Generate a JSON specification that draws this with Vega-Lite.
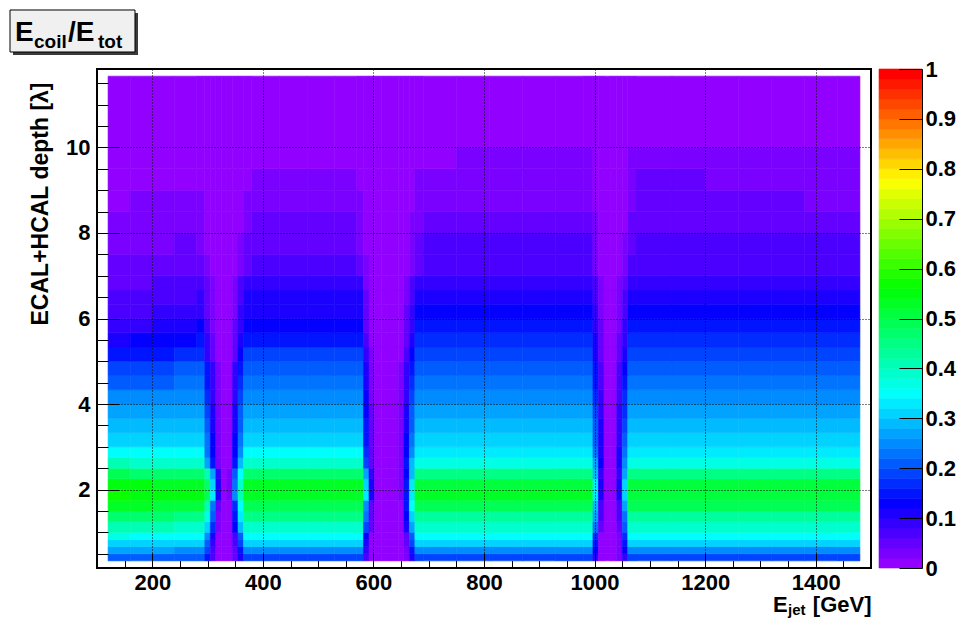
{
  "$schema": "https://vega.github.io/schema/vega-lite/v6.json",
  "background": "white",
  "autosize": {"type": "pad"},
  "padding": {"left": 8, "top": 8, "right": 2, "bottom": 0},
  "spacing": 5,
  "config": {
    "font": "Liberation Sans",
    "view": {"stroke": null},
    "axis": {"labelFont": "Liberation Sans", "labelFontWeight": "bold", "labelColor": "black", "titleFont": "Liberation Sans", "titleFontWeight": "bold", "titleColor": "black", "tickColor": "black", "domainColor": "black", "labelOverlap": false, "labelFlush": false, "labelBound": false}
  },
  "resolve": {"scale": {"x": "independent", "y": "independent", "color": "independent", "stroke": "independent"}},
  "datasets": {
    "cols": [
      {"i":1,"x0":120,"x1":160},{"i":2,"x0":160,"x1":200},{"i":3,"x0":200,"x1":240},{"i":4,"x0":240,"x1":280},{"i":5,"x0":280,"x1":295},
      {"i":6,"x0":295,"x1":305},{"i":7,"x0":305,"x1":315},{"i":8,"x0":315,"x1":325},{"i":9,"x0":325,"x1":335},{"i":10,"x0":335,"x1":345},{"i":11,"x0":345,"x1":355},{"i":12,"x0":355,"x1":365},
      {"i":13,"x0":365,"x1":380},{"i":14,"x0":380,"x1":430},{"i":15,"x0":430,"x1":480},{"i":16,"x0":480,"x1":530},{"i":17,"x0":530,"x1":570},{"i":18,"x0":570,"x1":582},
      {"i":19,"x0":582,"x1":592},{"i":20,"x0":592,"x1":602},{"i":21,"x0":602,"x1":615},{"i":22,"x0":615,"x1":630},{"i":23,"x0":630,"x1":645},{"i":24,"x0":645,"x1":655},{"i":25,"x0":655,"x1":665},{"i":26,"x0":665,"x1":675},
      {"i":27,"x0":675,"x1":690},{"i":28,"x0":690,"x1":750},{"i":29,"x0":750,"x1":810},{"i":30,"x0":810,"x1":870},{"i":31,"x0":870,"x1":930},{"i":32,"x0":930,"x1":980},{"i":33,"x0":980,"x1":997},
      {"i":34,"x0":997,"x1":1007},{"i":35,"x0":1007,"x1":1017},{"i":36,"x0":1017,"x1":1028},{"i":37,"x0":1028,"x1":1040},{"i":38,"x0":1040,"x1":1050},{"i":39,"x0":1050,"x1":1060},
      {"i":40,"x0":1060,"x1":1075},{"i":41,"x0":1075,"x1":1140},{"i":42,"x0":1140,"x1":1200},{"i":43,"x0":1200,"x1":1260},{"i":44,"x0":1260,"x1":1320},{"i":45,"x0":1320,"x1":1380},{"i":46,"x0":1380,"x1":1440},{"i":47,"x0":1440,"x1":1480}
    ],
    "grid": [
      {"y0":0.33333,"y1":0.5,"v":[0.2,0.2,0.2,0.2,0.2,0.14,0.06,0,0,0,0.04,0.117,0.195,0.195,0.195,0.195,0.195,0.195,0.068,0,0,0,0,0,0.029,0.117,0.195,0.195,0.195,0.195,0.195,0.195,0.195,0.098,0.01,0,0,0.02,0.098,0.195,0.195,0.195,0.195,0.195,0.195,0.195,0.195]},
      {"y0":0.5,"y1":0.66667,"v":[0.265,0.262,0.26,0.258,0.258,0.18,0.077,0,0,0,0.051,0.153,0.255,0.255,0.255,0.255,0.255,0.255,0.089,0,0,0,0,0,0.038,0.153,0.255,0.255,0.255,0.255,0.255,0.255,0.255,0.128,0.013,0,0,0.026,0.128,0.255,0.255,0.255,0.255,0.255,0.255,0.255,0.255]},
      {"y0":0.66667,"y1":0.83333,"v":[0.315,0.312,0.31,0.308,0.308,0.216,0.092,0,0,0,0.061,0.183,0.305,0.305,0.305,0.305,0.305,0.305,0.107,0,0,0,0,0,0.046,0.183,0.305,0.305,0.305,0.305,0.305,0.305,0.305,0.153,0.015,0,0,0.031,0.153,0.305,0.305,0.305,0.305,0.305,0.305,0.305,0.305]},
      {"y0":0.83333,"y1":1,"v":[0.36,0.355,0.352,0.35,0.35,0.245,0.105,0,0,0,0.069,0.207,0.345,0.345,0.345,0.345,0.345,0.345,0.121,0,0,0,0,0,0.052,0.207,0.345,0.345,0.345,0.345,0.345,0.345,0.345,0.173,0.017,0,0,0.035,0.173,0.345,0.345,0.345,0.345,0.345,0.345,0.345,0.345]},
      {"y0":1,"y1":1.25,"v":[0.41,0.405,0.4,0.395,0.395,0.316,0.178,0.032,0,0.012,0.137,0.281,0.39,0.39,0.39,0.39,0.39,0.39,0.195,0.047,0,0,0,0.012,0.116,0.27,0.385,0.385,0.385,0.385,0.385,0.385,0.385,0.231,0.058,0,0,0.058,0.212,0.385,0.385,0.385,0.385,0.385,0.385,0.385,0.385]},
      {"y0":1.25,"y1":1.5,"v":[0.47,0.465,0.46,0.455,0.455,0.364,0.205,0.036,0,0.013,0.156,0.32,0.445,0.445,0.445,0.445,0.445,0.445,0.223,0.053,0,0,0,0.013,0.131,0.305,0.435,0.435,0.435,0.435,0.435,0.435,0.435,0.261,0.065,0,0,0.065,0.239,0.435,0.435,0.435,0.435,0.435,0.435,0.435,0.435]},
      {"y0":1.5,"y1":1.75,"v":[0.53,0.52,0.515,0.51,0.51,0.408,0.23,0.04,0,0.015,0.173,0.356,0.495,0.495,0.495,0.495,0.495,0.495,0.248,0.059,0,0,0,0.015,0.146,0.34,0.485,0.485,0.485,0.485,0.485,0.485,0.485,0.291,0.073,0,0,0.072,0.264,0.48,0.48,0.48,0.48,0.48,0.48,0.48,0.48]},
      {"y0":1.75,"y1":2,"v":[0.56,0.555,0.55,0.545,0.545,0.48,0.327,0.109,0.011,0.037,0.241,0.401,0.535,0.535,0.535,0.535,0.535,0.535,0.321,0.107,0,0,0,0.026,0.146,0.338,0.52,0.52,0.52,0.52,0.52,0.52,0.52,0.338,0.104,0,0.01,0.103,0.309,0.515,0.515,0.515,0.515,0.515,0.515,0.515,0.515]},
      {"y0":2,"y1":2.25,"v":[0.545,0.54,0.535,0.53,0.53,0.466,0.318,0.106,0.011,0.037,0.236,0.394,0.525,0.525,0.525,0.525,0.525,0.525,0.315,0.105,0,0,0,0.026,0.143,0.332,0.51,0.51,0.51,0.51,0.51,0.51,0.51,0.332,0.102,0,0.01,0.101,0.303,0.505,0.505,0.505,0.505,0.505,0.505,0.505,0.505]},
      {"y0":2.25,"y1":2.5,"v":[0.48,0.475,0.47,0.465,0.465,0.409,0.279,0.093,0.009,0.032,0.207,0.345,0.46,0.46,0.46,0.46,0.46,0.46,0.276,0.092,0,0,0,0.023,0.126,0.293,0.45,0.45,0.45,0.45,0.45,0.45,0.45,0.293,0.09,0,0.009,0.09,0.27,0.45,0.45,0.45,0.45,0.45,0.45,0.45,0.45]},
      {"y0":2.5,"y1":2.75,"v":[0.4,0.395,0.39,0.385,0.385,0.27,0.154,0.039,0,0.019,0.152,0.285,0.38,0.38,0.38,0.38,0.38,0.38,0.19,0.057,0,0,0,0.038,0.15,0.281,0.375,0.375,0.375,0.375,0.375,0.375,0.375,0.263,0.131,0.019,0.019,0.113,0.244,0.375,0.375,0.375,0.375,0.375,0.375,0.375,0.375]},
      {"y0":2.75,"y1":3,"v":[0.35,0.347,0.345,0.342,0.342,0.239,0.137,0.034,0,0.017,0.136,0.255,0.34,0.34,0.34,0.34,0.34,0.34,0.17,0.051,0,0,0,0.034,0.135,0.254,0.338,0.338,0.338,0.338,0.338,0.338,0.338,0.237,0.118,0.017,0.017,0.101,0.22,0.338,0.338,0.338,0.338,0.338,0.338,0.338,0.338]},
      {"y0":3,"y1":3.33333,"v":[0.315,0.315,0.315,0.315,0.315,0.22,0.126,0.031,0,0.016,0.125,0.235,0.313,0.313,0.313,0.313,0.313,0.313,0.157,0.047,0,0,0,0.031,0.125,0.235,0.313,0.313,0.313,0.313,0.313,0.313,0.313,0.219,0.11,0.016,0.016,0.094,0.203,0.313,0.313,0.313,0.313,0.313,0.313,0.313,0.313]},
      {"y0":3.33333,"y1":3.66667,"v":[0.29,0.29,0.29,0.29,0.29,0.203,0.116,0.029,0,0.015,0.116,0.218,0.29,0.29,0.29,0.29,0.29,0.29,0.145,0.044,0,0,0,0.029,0.116,0.218,0.29,0.29,0.29,0.29,0.29,0.29,0.29,0.203,0.102,0.015,0.015,0.087,0.189,0.29,0.29,0.29,0.29,0.29,0.29,0.29,0.29]},
      {"y0":3.66667,"y1":4,"v":[0.265,0.267,0.268,0.27,0.27,0.189,0.108,0.027,0,0.014,0.108,0.203,0.27,0.27,0.27,0.27,0.27,0.27,0.135,0.041,0,0,0,0.027,0.108,0.203,0.27,0.27,0.27,0.27,0.27,0.27,0.27,0.189,0.095,0.014,0.014,0.081,0.176,0.27,0.27,0.27,0.27,0.27,0.27,0.27,0.27]},
      {"y0":4,"y1":4.33333,"v":[0.24,0.243,0.245,0.247,0.248,0.174,0.099,0.025,0,0.012,0.099,0.186,0.248,0.248,0.248,0.248,0.248,0.248,0.124,0.037,0,0,0,0.025,0.099,0.186,0.248,0.248,0.248,0.248,0.248,0.248,0.248,0.174,0.087,0.012,0.012,0.074,0.161,0.248,0.248,0.248,0.248,0.248,0.248,0.248,0.248]},
      {"y0":4.33333,"y1":4.66667,"v":[0.21,0.214,0.218,0.222,0.225,0.156,0.089,0.022,0,0.011,0.091,0.17,0.227,0.227,0.227,0.227,0.227,0.227,0.114,0.034,0,0,0,0.023,0.091,0.17,0.227,0.227,0.227,0.227,0.227,0.227,0.227,0.159,0.079,0.011,0.011,0.068,0.148,0.227,0.227,0.227,0.227,0.227,0.227,0.227,0.227]},
      {"y0":4.66667,"y1":5,"v":[0.18,0.187,0.193,0.2,0.203,0.14,0.08,0.02,0,0.01,0.082,0.153,0.204,0.204,0.204,0.204,0.204,0.204,0.102,0.031,0,0,0,0.02,0.082,0.153,0.204,0.204,0.204,0.204,0.204,0.204,0.204,0.143,0.071,0.01,0.01,0.061,0.133,0.204,0.204,0.204,0.204,0.204,0.204,0.204,0.204]},
      {"y0":5,"y1":5.33333,"v":[0.145,0.152,0.158,0.165,0.17,0.099,0.05,0.009,0,0.005,0.054,0.126,0.18,0.18,0.18,0.18,0.18,0.18,0.081,0.022,0,0,0,0.014,0.063,0.127,0.181,0.181,0.181,0.181,0.181,0.181,0.181,0.118,0.054,0.005,0.005,0.045,0.109,0.181,0.181,0.181,0.181,0.181,0.181,0.181,0.181]},
      {"y0":5.33333,"y1":5.66667,"v":[0.115,0.123,0.13,0.138,0.142,0.083,0.041,0.007,0,0.005,0.046,0.107,0.153,0.153,0.153,0.153,0.153,0.153,0.069,0.018,0,0,0,0.013,0.056,0.112,0.16,0.16,0.16,0.16,0.16,0.16,0.16,0.104,0.048,0.005,0.005,0.04,0.096,0.16,0.16,0.16,0.16,0.16,0.16,0.16,0.16]},
      {"y0":5.66667,"y1":6,"v":[0.09,0.098,0.107,0.115,0.12,0.069,0.035,0.006,0,0.004,0.04,0.092,0.132,0.132,0.132,0.132,0.132,0.132,0.059,0.016,0,0,0,0.011,0.049,0.099,0.141,0.141,0.141,0.141,0.141,0.141,0.141,0.092,0.042,0.004,0.004,0.035,0.085,0.141,0.141,0.141,0.141,0.141,0.141,0.141,0.141]},
      {"y0":6,"y1":6.33333,"v":[0.072,0.079,0.085,0.092,0.096,0.055,0.028,0.005,0,0.003,0.035,0.081,0.116,0.116,0.116,0.116,0.116,0.116,0.052,0.014,0,0,0,0.01,0.043,0.086,0.123,0.123,0.123,0.123,0.123,0.123,0.123,0.08,0.037,0.004,0.004,0.031,0.074,0.123,0.123,0.123,0.123,0.123,0.123,0.123,0.123]},
      {"y0":6.33333,"y1":6.66667,"v":[0.061,0.066,0.072,0.077,0.08,0.046,0.023,0.004,0,0.003,0.03,0.07,0.1,0.1,0.1,0.1,0.1,0.1,0.045,0.012,0,0,0,0.008,0.037,0.074,0.106,0.106,0.106,0.106,0.106,0.106,0.106,0.069,0.032,0.003,0.003,0.027,0.064,0.106,0.106,0.106,0.106,0.106,0.106,0.106,0.106]},
      {"y0":6.66667,"y1":7,"v":[0.053,0.057,0.062,0.066,0.069,0.04,0.02,0.003,0,0.003,0.026,0.061,0.087,0.087,0.087,0.087,0.087,0.087,0.039,0.01,0,0,0,0.007,0.033,0.065,0.093,0.093,0.093,0.093,0.093,0.093,0.093,0.06,0.028,0.003,0.003,0.023,0.056,0.093,0.093,0.093,0.093,0.093,0.093,0.093,0.093]},
      {"y0":7,"y1":7.5,"v":[0.042,0.046,0.051,0.055,0.05,0.022,0.008,0.003,0,0.002,0.011,0.032,0.053,0.071,0.071,0.071,0.071,0.05,0.021,0.004,0,0,0,0.004,0.015,0.039,0.054,0.077,0.077,0.077,0.077,0.077,0.077,0.035,0.012,0.002,0.002,0.008,0.031,0.062,0.077,0.077,0.077,0.077,0.077,0.077,0.077]},
      {"y0":7.5,"y1":8,"v":[0.032,0.036,0.039,0.043,0.039,0.017,0.006,0.002,0,0.002,0.008,0.025,0.041,0.055,0.055,0.055,0.055,0.039,0.017,0.003,0,0,0,0.003,0.012,0.031,0.043,0.061,0.061,0.061,0.061,0.061,0.061,0.027,0.009,0.001,0.001,0.006,0.024,0.049,0.061,0.061,0.061,0.061,0.061,0.061,0.061]},
      {"y0":8,"y1":8.5,"v":[0.023,0.027,0.03,0.034,0.031,0.014,0.005,0.002,0,0.001,0.006,0.018,0.03,0.04,0.04,0.04,0.04,0.028,0.012,0.002,0,0,0,0.002,0.01,0.024,0.034,0.048,0.048,0.048,0.048,0.048,0.048,0.022,0.007,0.001,0.001,0.005,0.019,0.04,0.05,0.05,0.049,0.048,0.048,0.047,0.046]},
      {"y0":8.5,"y1":9,"v":[0.018,0.021,0.023,0.026,0.024,0.01,0.004,0.001,0,0.001,0.005,0.014,0.023,0.03,0.03,0.03,0.03,0.021,0.009,0.002,0,0,0,0.002,0.008,0.019,0.027,0.038,0.038,0.038,0.038,0.038,0.038,0.017,0.006,0.001,0.001,0.004,0.015,0.036,0.045,0.044,0.043,0.042,0.041,0.039,0.036]},
      {"y0":9,"y1":9.5,"v":[0.014,0.016,0.017,0.019,0.017,0.008,0.003,0.001,0,0.001,0.003,0.009,0.016,0.021,0.021,0.021,0.021,0.015,0.006,0.001,0,0,0,0.001,0.006,0.015,0.021,0.03,0.03,0.03,0.03,0.03,0.03,0.014,0.005,0.001,0.001,0.003,0.012,0.033,0.042,0.041,0.038,0.035,0.032,0.03,0.03]},
      {"y0":9.5,"y1":10,"v":[0.01,0.011,0.013,0.014,0.015,0.007,0.004,0.003,0.002,0.003,0.005,0.008,0.015,0.015,0.015,0.015,0.015,0.012,0.006,0.003,0.002,0.002,0.002,0.003,0.007,0.013,0.016,0.019,0.021,0.023,0.023,0.023,0.023,0.012,0.007,0.005,0.005,0.007,0.012,0.025,0.03,0.028,0.027,0.026,0.025,0.024,0.023]},
      {"y0":10,"y1":11.66667,"v":[0.005,0.005,0.005,0.005,0.005,0.005,0.005,0.005,0.005,0.005,0.005,0.005,0.005,0.005,0.005,0.005,0.005,0.005,0.005,0.005,0.005,0.005,0.005,0.005,0.005,0.005,0.005,0.005,0.005,0.005,0.005,0.005,0.005,0.005,0.005,0.005,0.005,0.005,0.005,0.005,0.005,0.005,0.005,0.005,0.005,0.005,0.005]}
    ],
    "pal": [
      {"lo":0,"hi":0.02},{"lo":0.02,"hi":0.04},{"lo":0.04,"hi":0.06},{"lo":0.06,"hi":0.08},{"lo":0.08,"hi":0.1},
      {"lo":0.1,"hi":0.12},{"lo":0.12,"hi":0.14},{"lo":0.14,"hi":0.16},{"lo":0.16,"hi":0.18},{"lo":0.18,"hi":0.2},
      {"lo":0.2,"hi":0.22},{"lo":0.22,"hi":0.24},{"lo":0.24,"hi":0.26},{"lo":0.26,"hi":0.28},{"lo":0.28,"hi":0.3},
      {"lo":0.3,"hi":0.32},{"lo":0.32,"hi":0.34},{"lo":0.34,"hi":0.36},{"lo":0.36,"hi":0.38},{"lo":0.38,"hi":0.4},
      {"lo":0.4,"hi":0.42},{"lo":0.42,"hi":0.44},{"lo":0.44,"hi":0.46},{"lo":0.46,"hi":0.48},{"lo":0.48,"hi":0.5},
      {"lo":0.5,"hi":0.52},{"lo":0.52,"hi":0.54},{"lo":0.54,"hi":0.56},{"lo":0.56,"hi":0.58},{"lo":0.58,"hi":0.6},
      {"lo":0.6,"hi":0.62},{"lo":0.62,"hi":0.64},{"lo":0.64,"hi":0.66},{"lo":0.66,"hi":0.68},{"lo":0.68,"hi":0.7},
      {"lo":0.7,"hi":0.72},{"lo":0.72,"hi":0.74},{"lo":0.74,"hi":0.76},{"lo":0.76,"hi":0.78},{"lo":0.78,"hi":0.8},
      {"lo":0.8,"hi":0.82},{"lo":0.82,"hi":0.84},{"lo":0.84,"hi":0.86},{"lo":0.86,"hi":0.88},{"lo":0.88,"hi":0.9},
      {"lo":0.9,"hi":0.92},{"lo":0.92,"hi":0.94},{"lo":0.94,"hi":0.96},{"lo":0.96,"hi":0.98},{"lo":0.98,"hi":1}
    ]
  },
  "hconcat": [
    {
      "width": 774,
      "height": 499,
      "view": {"stroke": "black", "strokeWidth": 2},
      "resolve": {"axis": {"x": "independent", "y": "independent"}},
      "layer": [
        {
          "data": {"name": "grid"},
          "transform": [
            {"flatten": ["v"]},
            {"window": [{"op": "row_number", "as": "i"}], "groupby": ["y0"]},
            {"lookup": "i", "from": {"data": {"name": "cols"}, "key": "i", "fields": ["x0", "x1"]}}
          ],
          "mark": {"type": "rect", "strokeWidth": 0.6},
          "encoding": {
            "x": {"field": "x0", "type": "quantitative", "scale": {"domain": [100, 1500], "nice": false, "zero": false},
                  "axis": {"orient": "bottom", "values": [200, 400, 600, 800, 1000, 1200, 1400], "format": "d", "title": null, "grid": true, "gridColor": "black", "gridDash": [1, 2], "gridWidth": 1, "gridOpacity": 1, "tickSize": -15, "tickWidth": 1, "domain": false, "labelPadding": 19, "labelFontSize": 22, "zindex": 1}},
            "x2": {"field": "x1"},
            "y": {"field": "y0", "type": "quantitative", "scale": {"domain": [0.166667, 11.833333], "nice": false, "zero": false},
                  "axis": {"orient": "left", "values": [2, 4, 6, 8, 10], "title": "ECAL+HCAL depth [λ]", "titleFontSize": 23, "titleAngle": -90, "titleAlign": "right", "titleBaseline": "alphabetic", "titleX": -50, "titleY": 13, "grid": true, "gridColor": "black", "gridDash": [1, 2], "gridWidth": 1, "gridOpacity": 1, "tickSize": -22, "tickWidth": 1, "domain": false, "labelPadding": 29, "labelFontSize": 22, "zindex": 1}},
            "y2": {"field": "y1"},
            "color": {"field": "v", "type": "quantitative", "legend": null, "scale": {"type": "linear", "nice": false, "zero": false, "clamp": true,
              "domain": [0,0.0199,0.02,0.0399,0.04,0.0599,0.06,0.0799,0.08,0.0999,0.1,0.1199,0.12,0.1399,0.14,0.1599,0.16,0.1799,0.18,0.1999,0.2,0.2199,0.22,0.2399,0.24,0.2599,0.26,0.2799,0.28,0.2999,0.3,0.3199,0.32,0.3399,0.34,0.3599,0.36,0.3799,0.38,0.3999,0.4,0.4199,0.42,0.4399,0.44,0.4599,0.46,0.4799,0.48,0.4999,0.5,0.5199,0.52,0.5399,0.54,0.5599,0.56,0.5799,0.58,0.5999,0.6,0.6199,0.62,0.6399,0.64,0.6599,0.66,0.6799,0.68,0.6999,0.7,0.7199,0.72,0.7399,0.74,0.7599,0.76,0.7799,0.78,0.7999,0.8,0.8199,0.82,0.8399,0.84,0.8599,0.86,0.8799,0.88,0.8999,0.9,0.9199,0.92,0.9399,0.94,0.9599,0.96,0.9799,0.98,1],
              "range": ["#9200ff","#9200ff","#7a00ff","#7a00ff","#6300ff","#6300ff","#4b00ff","#4b00ff","#3300ff","#3300ff","#1b00ff","#1b00ff","#0300ff","#0300ff","#0014ff","#0014ff","#002cff","#002cff","#0044ff","#0044ff","#005cff","#005cff","#0074ff","#0074ff","#008bff","#008bff","#00a3ff","#00a3ff","#00bbff","#00bbff","#00d3ff","#00d3ff","#00ebff","#00ebff","#00fffc","#00fffc","#00ffe4","#00ffe4","#00ffcc","#00ffcc","#00ffb4","#00ffb4","#00ff9c","#00ff9c","#00ff85","#00ff85","#00ff6d","#00ff6d","#00ff55","#00ff55","#00ff3d","#00ff3d","#00ff25","#00ff25","#00ff0e","#00ff0e","#0aff00","#0aff00","#22ff00","#22ff00","#3aff00","#3aff00","#52ff00","#52ff00","#69ff00","#69ff00","#81ff00","#81ff00","#99ff00","#99ff00","#b1ff00","#b1ff00","#c9ff00","#c9ff00","#e0ff00","#e0ff00","#f8ff00","#f8ff00","#ffee00","#ffee00","#ffd600","#ffd600","#ffbe00","#ffbe00","#ffa700","#ffa700","#ff8f00","#ff8f00","#ff7700","#ff7700","#ff5f00","#ff5f00","#ff4700","#ff4700","#ff3000","#ff3000","#ff1800","#ff1800","#ff0000","#ff0000"]}},
            "stroke": {"field": "v", "type": "quantitative", "legend": null, "scale": {"type": "linear", "nice": false, "zero": false, "clamp": true,
              "domain": [0,0.0199,0.02,0.0399,0.04,0.0599,0.06,0.0799,0.08,0.0999,0.1,0.1199,0.12,0.1399,0.14,0.1599,0.16,0.1799,0.18,0.1999,0.2,0.2199,0.22,0.2399,0.24,0.2599,0.26,0.2799,0.28,0.2999,0.3,0.3199,0.32,0.3399,0.34,0.3599,0.36,0.3799,0.38,0.3999,0.4,0.4199,0.42,0.4399,0.44,0.4599,0.46,0.4799,0.48,0.4999,0.5,0.5199,0.52,0.5399,0.54,0.5599,0.56,0.5799,0.58,0.5999,0.6,0.6199,0.62,0.6399,0.64,0.6599,0.66,0.6799,0.68,0.6999,0.7,0.7199,0.72,0.7399,0.74,0.7599,0.76,0.7799,0.78,0.7999,0.8,0.8199,0.82,0.8399,0.84,0.8599,0.86,0.8799,0.88,0.8999,0.9,0.9199,0.92,0.9399,0.94,0.9599,0.96,0.9799,0.98,1],
              "range": ["#9200ff","#9200ff","#7a00ff","#7a00ff","#6300ff","#6300ff","#4b00ff","#4b00ff","#3300ff","#3300ff","#1b00ff","#1b00ff","#0300ff","#0300ff","#0014ff","#0014ff","#002cff","#002cff","#0044ff","#0044ff","#005cff","#005cff","#0074ff","#0074ff","#008bff","#008bff","#00a3ff","#00a3ff","#00bbff","#00bbff","#00d3ff","#00d3ff","#00ebff","#00ebff","#00fffc","#00fffc","#00ffe4","#00ffe4","#00ffcc","#00ffcc","#00ffb4","#00ffb4","#00ff9c","#00ff9c","#00ff85","#00ff85","#00ff6d","#00ff6d","#00ff55","#00ff55","#00ff3d","#00ff3d","#00ff25","#00ff25","#00ff0e","#00ff0e","#0aff00","#0aff00","#22ff00","#22ff00","#3aff00","#3aff00","#52ff00","#52ff00","#69ff00","#69ff00","#81ff00","#81ff00","#99ff00","#99ff00","#b1ff00","#b1ff00","#c9ff00","#c9ff00","#e0ff00","#e0ff00","#f8ff00","#f8ff00","#ffee00","#ffee00","#ffd600","#ffd600","#ffbe00","#ffbe00","#ffa700","#ffa700","#ff8f00","#ff8f00","#ff7700","#ff7700","#ff5f00","#ff5f00","#ff4700","#ff4700","#ff3000","#ff3000","#ff1800","#ff1800","#ff0000","#ff0000"]}}
          }
        },
        {
          "data": {"values": [{}]},
          "mark": {"type": "rect", "fill": "#3a3a3a"},
          "encoding": {
            "x": {"datum": -51.94, "type": "quantitative", "scale": {"domain": [100, 1500], "nice": false, "zero": false},
                  "axis": {"orient": "bottom", "values": [150, 250, 300, 350, 450, 500, 550, 650, 700, 750, 850, 900, 950, 1050, 1100, 1150, 1250, 1300, 1350, 1450], "labels": false, "grid": false, "domain": false, "tickSize": -7.5, "tickWidth": 1, "title": null, "zindex": 1}},
            "x2": {"datum": 174.16},
            "y": {"datum": 13.143, "type": "quantitative", "scale": {"domain": [0.166667, 11.833333], "nice": false, "zero": false},
                  "axis": {"orient": "left", "values": [0.5, 1, 1.5, 2.5, 3, 3.5, 4.5, 5, 5.5, 6.5, 7, 7.5, 8.5, 9, 9.5, 10.5, 11, 11.5], "labels": false, "grid": false, "domain": false, "tickSize": -11, "tickWidth": 1, "title": null, "zindex": 1}},
            "y2": {"datum": 12.161}
          }
        },
        {
          "data": {"values": [{}]},
          "mark": {"type": "rect", "fill": "#f0f0f0", "stroke": "black", "strokeWidth": 1},
          "encoding": {
            "x": {"datum": -57.36, "type": "quantitative", "scale": {"domain": [100, 1500], "nice": false, "zero": false}, "axis": null},
            "x2": {"datum": 168.73},
            "y": {"datum": 13.213, "type": "quantitative", "scale": {"domain": [0.166667, 11.833333], "nice": false, "zero": false}, "axis": null},
            "y2": {"datum": 12.231}
          }
        },
        {
          "data": {"values": [{}]},
          "mark": {"type": "text", "font": "Liberation Sans", "fontWeight": "bold", "fontSize": 28, "align": "left", "baseline": "alphabetic", "color": "black"},
          "encoding": {
            "x": {"datum": -48.3, "type": "quantitative", "scale": {"domain": [100, 1500], "nice": false, "zero": false}, "axis": null},
            "y": {"datum": 12.49, "type": "quantitative", "scale": {"domain": [0.166667, 11.833333], "nice": false, "zero": false}, "axis": null},
            "text": {"value": "E"}
          }
        },
        {
          "data": {"values": [{}]},
          "mark": {"type": "text", "font": "Liberation Sans", "fontWeight": "bold", "fontSize": 19, "align": "left", "baseline": "alphabetic", "color": "black"},
          "encoding": {
            "x": {"datum": -13.95, "type": "quantitative", "scale": {"domain": [100, 1500], "nice": false, "zero": false}, "axis": null},
            "y": {"datum": 12.324, "type": "quantitative", "scale": {"domain": [0.166667, 11.833333], "nice": false, "zero": false}, "axis": null},
            "text": {"value": "coil"}
          }
        },
        {
          "data": {"values": [{}]},
          "mark": {"type": "text", "font": "Liberation Sans", "fontWeight": "bold", "fontSize": 28, "align": "left", "baseline": "alphabetic", "color": "black"},
          "encoding": {
            "x": {"datum": 47.55, "type": "quantitative", "scale": {"domain": [100, 1500], "nice": false, "zero": false}, "axis": null},
            "y": {"datum": 12.49, "type": "quantitative", "scale": {"domain": [0.166667, 11.833333], "nice": false, "zero": false}, "axis": null},
            "text": {"value": "/E"}
          }
        },
        {
          "data": {"values": [{}]},
          "mark": {"type": "text", "font": "Liberation Sans", "fontWeight": "bold", "fontSize": 19, "align": "left", "baseline": "alphabetic", "color": "black"},
          "encoding": {
            "x": {"datum": 101.8, "type": "quantitative", "scale": {"domain": [100, 1500], "nice": false, "zero": false}, "axis": null},
            "y": {"datum": 12.324, "type": "quantitative", "scale": {"domain": [0.166667, 11.833333], "nice": false, "zero": false}, "axis": null},
            "text": {"value": "tot"}
          }
        },
        {
          "data": {"values": [{}]},
          "mark": {"type": "text", "font": "Liberation Sans", "fontWeight": "bold", "fontSize": 22, "align": "left", "baseline": "alphabetic", "color": "black"},
          "encoding": {
            "x": {"datum": 1322.7, "type": "quantitative", "scale": {"domain": [100, 1500], "nice": false, "zero": false}, "axis": null},
            "y": {"datum": -0.862, "type": "quantitative", "scale": {"domain": [0.166667, 11.833333], "nice": false, "zero": false}, "axis": null},
            "text": {"value": "E"}
          }
        },
        {
          "data": {"values": [{}]},
          "mark": {"type": "text", "font": "Liberation Sans", "fontWeight": "bold", "fontSize": 15, "align": "left", "baseline": "alphabetic", "color": "black"},
          "encoding": {
            "x": {"datum": 1349.9, "type": "quantitative", "scale": {"domain": [100, 1500], "nice": false, "zero": false}, "axis": null},
            "y": {"datum": -0.932, "type": "quantitative", "scale": {"domain": [0.166667, 11.833333], "nice": false, "zero": false}, "axis": null},
            "text": {"value": "jet"}
          }
        },
        {
          "data": {"values": [{}]},
          "mark": {"type": "text", "font": "Liberation Sans", "fontWeight": "bold", "fontSize": 22, "align": "right", "baseline": "alphabetic", "color": "black"},
          "encoding": {
            "x": {"datum": 1501, "type": "quantitative", "scale": {"domain": [100, 1500], "nice": false, "zero": false}, "axis": null},
            "y": {"datum": -0.862, "type": "quantitative", "scale": {"domain": [0.166667, 11.833333], "nice": false, "zero": false}, "axis": null},
            "text": {"value": "[GeV]"}
          }
        }
      ]
    },
    {
      "width": 43,
      "height": 499,
      "view": {"stroke": null},
      "data": {"name": "pal"},
      "mark": {"type": "rect", "strokeWidth": 0.6},
      "encoding": {
        "y": {"field": "lo", "type": "quantitative", "scale": {"domain": [0, 1], "nice": false, "zero": false},
              "axis": {"orient": "right", "values": [0, 0.1, 0.2, 0.3, 0.4, 0.5, 0.6, 0.7, 0.8, 0.9, 1], "format": ".1~f", "title": null, "grid": false, "domain": true, "domainWidth": 1, "tickSize": -23, "tickWidth": 1, "labelPadding": 26, "labelFontSize": 22, "labelBaseline": "middle", "zindex": 1}},
        "y2": {"field": "hi"},
        "color": {"field": "lo", "type": "quantitative", "legend": null, "scale": {"type": "linear", "nice": false, "zero": false, "clamp": true,
          "domain": [0,0.0199,0.02,0.0399,0.04,0.0599,0.06,0.0799,0.08,0.0999,0.1,0.1199,0.12,0.1399,0.14,0.1599,0.16,0.1799,0.18,0.1999,0.2,0.2199,0.22,0.2399,0.24,0.2599,0.26,0.2799,0.28,0.2999,0.3,0.3199,0.32,0.3399,0.34,0.3599,0.36,0.3799,0.38,0.3999,0.4,0.4199,0.42,0.4399,0.44,0.4599,0.46,0.4799,0.48,0.4999,0.5,0.5199,0.52,0.5399,0.54,0.5599,0.56,0.5799,0.58,0.5999,0.6,0.6199,0.62,0.6399,0.64,0.6599,0.66,0.6799,0.68,0.6999,0.7,0.7199,0.72,0.7399,0.74,0.7599,0.76,0.7799,0.78,0.7999,0.8,0.8199,0.82,0.8399,0.84,0.8599,0.86,0.8799,0.88,0.8999,0.9,0.9199,0.92,0.9399,0.94,0.9599,0.96,0.9799,0.98,1],
          "range": ["#9200ff","#9200ff","#7a00ff","#7a00ff","#6300ff","#6300ff","#4b00ff","#4b00ff","#3300ff","#3300ff","#1b00ff","#1b00ff","#0300ff","#0300ff","#0014ff","#0014ff","#002cff","#002cff","#0044ff","#0044ff","#005cff","#005cff","#0074ff","#0074ff","#008bff","#008bff","#00a3ff","#00a3ff","#00bbff","#00bbff","#00d3ff","#00d3ff","#00ebff","#00ebff","#00fffc","#00fffc","#00ffe4","#00ffe4","#00ffcc","#00ffcc","#00ffb4","#00ffb4","#00ff9c","#00ff9c","#00ff85","#00ff85","#00ff6d","#00ff6d","#00ff55","#00ff55","#00ff3d","#00ff3d","#00ff25","#00ff25","#00ff0e","#00ff0e","#0aff00","#0aff00","#22ff00","#22ff00","#3aff00","#3aff00","#52ff00","#52ff00","#69ff00","#69ff00","#81ff00","#81ff00","#99ff00","#99ff00","#b1ff00","#b1ff00","#c9ff00","#c9ff00","#e0ff00","#e0ff00","#f8ff00","#f8ff00","#ffee00","#ffee00","#ffd600","#ffd600","#ffbe00","#ffbe00","#ffa700","#ffa700","#ff8f00","#ff8f00","#ff7700","#ff7700","#ff5f00","#ff5f00","#ff4700","#ff4700","#ff3000","#ff3000","#ff1800","#ff1800","#ff0000","#ff0000"]}},
        "stroke": {"field": "lo", "type": "quantitative", "legend": null, "scale": {"type": "linear", "nice": false, "zero": false, "clamp": true,
          "domain": [0,0.0199,0.02,0.0399,0.04,0.0599,0.06,0.0799,0.08,0.0999,0.1,0.1199,0.12,0.1399,0.14,0.1599,0.16,0.1799,0.18,0.1999,0.2,0.2199,0.22,0.2399,0.24,0.2599,0.26,0.2799,0.28,0.2999,0.3,0.3199,0.32,0.3399,0.34,0.3599,0.36,0.3799,0.38,0.3999,0.4,0.4199,0.42,0.4399,0.44,0.4599,0.46,0.4799,0.48,0.4999,0.5,0.5199,0.52,0.5399,0.54,0.5599,0.56,0.5799,0.58,0.5999,0.6,0.6199,0.62,0.6399,0.64,0.6599,0.66,0.6799,0.68,0.6999,0.7,0.7199,0.72,0.7399,0.74,0.7599,0.76,0.7799,0.78,0.7999,0.8,0.8199,0.82,0.8399,0.84,0.8599,0.86,0.8799,0.88,0.8999,0.9,0.9199,0.92,0.9399,0.94,0.9599,0.96,0.9799,0.98,1],
          "range": ["#9200ff","#9200ff","#7a00ff","#7a00ff","#6300ff","#6300ff","#4b00ff","#4b00ff","#3300ff","#3300ff","#1b00ff","#1b00ff","#0300ff","#0300ff","#0014ff","#0014ff","#002cff","#002cff","#0044ff","#0044ff","#005cff","#005cff","#0074ff","#0074ff","#008bff","#008bff","#00a3ff","#00a3ff","#00bbff","#00bbff","#00d3ff","#00d3ff","#00ebff","#00ebff","#00fffc","#00fffc","#00ffe4","#00ffe4","#00ffcc","#00ffcc","#00ffb4","#00ffb4","#00ff9c","#00ff9c","#00ff85","#00ff85","#00ff6d","#00ff6d","#00ff55","#00ff55","#00ff3d","#00ff3d","#00ff25","#00ff25","#00ff0e","#00ff0e","#0aff00","#0aff00","#22ff00","#22ff00","#3aff00","#3aff00","#52ff00","#52ff00","#69ff00","#69ff00","#81ff00","#81ff00","#99ff00","#99ff00","#b1ff00","#b1ff00","#c9ff00","#c9ff00","#e0ff00","#e0ff00","#f8ff00","#f8ff00","#ffee00","#ffee00","#ffd600","#ffd600","#ffbe00","#ffbe00","#ffa700","#ffa700","#ff8f00","#ff8f00","#ff7700","#ff7700","#ff5f00","#ff5f00","#ff4700","#ff4700","#ff3000","#ff3000","#ff1800","#ff1800","#ff0000","#ff0000"]}}
      }
    }
  ]
}
